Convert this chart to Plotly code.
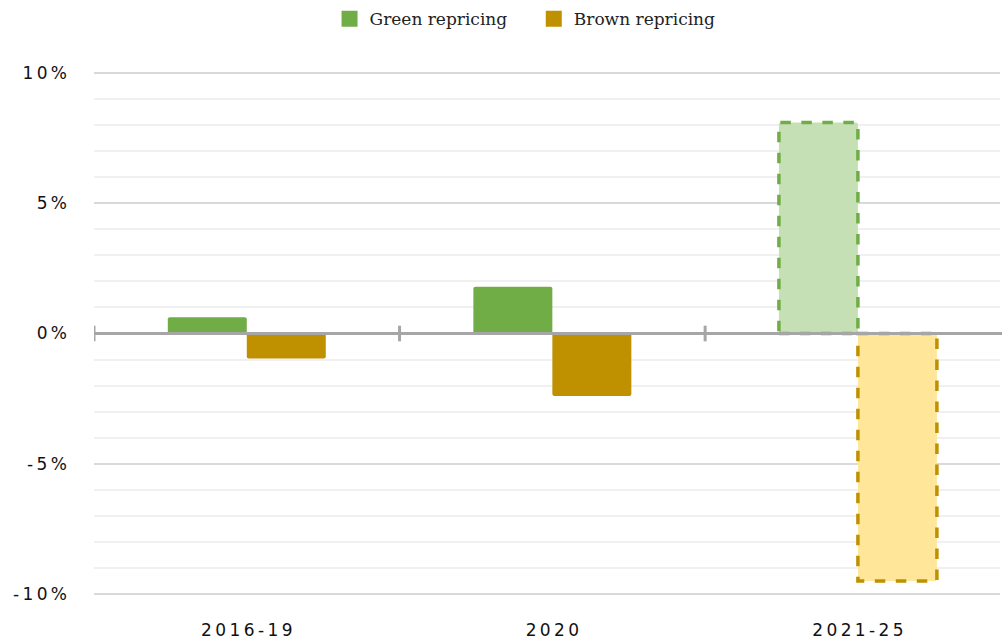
import plotly.graph_objects as go

categories = ["2016-19", "2020", "2021-25"]
green_values = [0.62, 1.8, 8.1]
brown_values = [-0.96, -2.4, -9.5]
projected = [False, False, True]

y_tick_vals = [-10, -5, 0, 5, 10]
y_tick_text = ["-10%", "-5%", "0%", "5%", "10%"]

GREEN = "#70ad47"
GREEN_LIGHT = "#c5e0b4"
BROWN = "#bf9000"
BROWN_LIGHT = "#ffe699"
AXIS_GREY = "#a6a6a6"

bargap = 0.483
bar_w = (1 - bargap) / 2


def spaced(s):
    # wide letter spacing like the original tick labels
    return "\u2009".join(s)


fig = go.Figure()

fig.add_trace(
    go.Bar(
        x=categories,
        y=green_values,
        name="Green repricing",
        showlegend=False,
        marker=dict(
            color=[GREEN_LIGHT if p else GREEN for p in projected],
            line=dict(width=0),
            cornerradius=2,
        ),
        hovertemplate="%{x}<br>Green: %{y:.1f}%<extra></extra>",
    )
)
fig.add_trace(
    go.Bar(
        x=categories,
        y=brown_values,
        name="Brown repricing",
        showlegend=False,
        marker=dict(
            color=[BROWN_LIGHT if p else BROWN for p in projected],
            line=dict(width=0),
            cornerradius=2,
        ),
        hovertemplate="%{x}<br>Brown: %{y:.1f}%<extra></extra>",
    )
)

# legend entries with larger square swatches
for name, col in [("Green repricing\u00a0\u00a0\u00a0\u00a0", GREEN), ("Brown repricing", BROWN)]:
    fig.add_trace(
        go.Scatter(
            x=[None], y=[None], mode="markers", name=name,
            marker=dict(symbol="square", size=18, color=col),
        )
    )

# dashed outlines for projected bars
for i, p in enumerate(projected):
    if not p:
        continue
    fig.add_shape(
        type="rect", xref="x", yref="y",
        x0=i - bar_w, x1=i, y0=0, y1=green_values[i],
        line=dict(color=GREEN, width=3.5, dash="dash"),
        fillcolor="rgba(0,0,0,0)",
    )
    fig.add_shape(
        type="rect", xref="x", yref="y",
        x0=i, x1=i + bar_w, y0=0, y1=brown_values[i],
        line=dict(color=BROWN, width=3.5, dash="dash"),
        fillcolor="rgba(0,0,0,0)",
    )

# zero axis line with category boundary ticks
fig.add_shape(
    type="line", xref="paper", yref="y",
    x0=0, x1=1.01, y0=0, y1=0,
    line=dict(color=AXIS_GREY, width=3),
)
for b in range(len(categories)):
    fig.add_shape(
        type="line", xref="x", yref="y",
        x0=b - 0.5, x1=b - 0.5, y0=-0.3, y1=0.3,
        line=dict(color=AXIS_GREY, width=3),
    )

fig.update_layout(
    width=1002,
    height=641,
    barmode="group",
    bargap=bargap,
    bargroupgap=0,
    plot_bgcolor="white",
    paper_bgcolor="white",
    margin=dict(l=94, r=2, t=71, b=45),
    showlegend=True,
    legend=dict(
        orientation="h",
        x=0.524, xanchor="center", xref="container",
        y=0.998, yanchor="top", yref="container",
        font=dict(family="DejaVu Serif", size=17, color="#222"),
        itemwidth=30,
    ),
    font=dict(family="DejaVu Sans", size=15, color="#222"),
)

fig.update_xaxes(
    type="category",
    range=[-0.5, len(categories) - 0.535],
    tickvals=categories,
    ticktext=[spaced(c) for c in categories],
    showgrid=False,
    showline=False,
    ticks="",
    ticklabelstandoff=22,
    tickfont=dict(family="DejaVu Sans", size=17, color="#111"),
)
fig.update_yaxes(
    range=[-10.08, 10.08],
    tickvals=y_tick_vals,
    ticktext=[spaced(t) for t in y_tick_text],
    showgrid=True,
    gridcolor="#d9d9d9",
    gridwidth=1.5,
    zeroline=False,
    showline=False,
    ticklabelstandoff=26,
    tickfont=dict(family="DejaVu Sans", size=17, color="#111"),
    minor=dict(dtick=1, tick0=0, showgrid=True, gridcolor="#f0f0f0", gridwidth=1.5),
)

fig.write_html(
    "out.html",
    config={"displayModeBar": False},
    post_script="document.body.style.margin='0';",
)
